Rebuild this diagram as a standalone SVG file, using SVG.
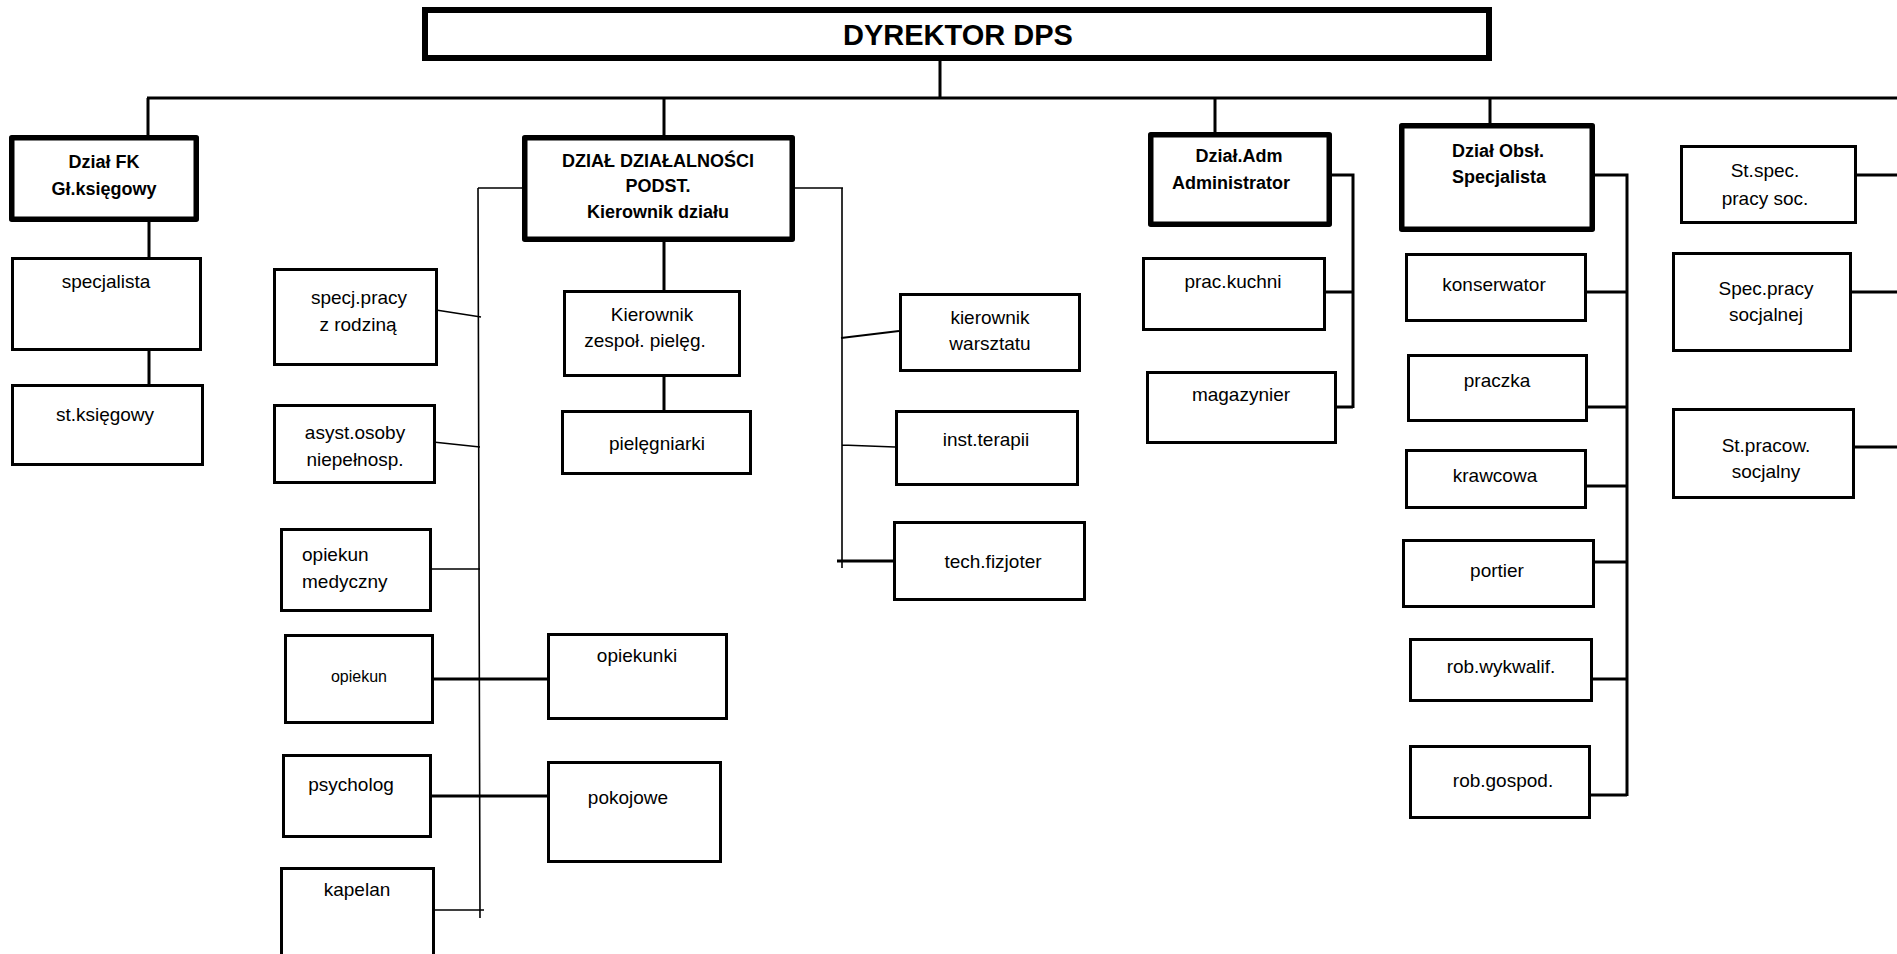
<svg xmlns="http://www.w3.org/2000/svg" width="1897" height="954" viewBox="0 0 1897 954">
<style>
  .box { fill: #fff; stroke: #000; stroke-width: 3; }
  .dept { fill: #fff; stroke: #000; stroke-width: 5.5; stroke-linejoin: round; }
  .top { fill: #fff; stroke: #000; stroke-width: 6; }
  .ln { stroke: #000; stroke-width: 3; fill: none; }
  .thin { stroke: #000; stroke-width: 1.6; fill: none; }
  text { font-family: "Liberation Sans", Arial, sans-serif; font-size: 19px; text-anchor: middle; fill: #000; }
  .b { font-weight: bold; font-size: 18px; }
  .head { font-weight: bold; font-size: 29px; }
  .sm { font-size: 16px; }
  .l { text-anchor: start; }
</style>
<rect width="1897" height="954" fill="#fff"/>

<g id="connectors">
  <!-- main bus -->
  <path class="ln" d="M940 61V98M147 98H1897M148 98V135M664 98V135M1215 98V132M1490 98V123"/>
  <!-- finance -->
  <path class="ln" d="M149 222V257M149 351V384"/>
  <!-- core department, left branch -->
  <path class="thin" d="M522 188H478M478 188L480 918"/>
  <path class="thin" d="M436 310L481 317M433 442L480 447M432 569H480M429 910H484"/>
  <path class="ln" d="M434 679H547M432 796H547"/>
  <!-- core department, nursing -->
  <path class="ln" d="M664 242V290M664 377V410"/>
  <!-- core department, right branch -->
  <path class="thin" d="M795 188H843M842 188V568M842 445L895 447"/>
  <path class="thin" style="stroke-width:2" d="M841 338L899 331"/>
  <path class="ln" d="M837 561H893"/>
  <!-- administration -->
  <path class="ln" d="M1332 175H1353V408M1326 292H1353M1337 407H1353"/>
  <!-- service department -->
  <path class="ln" d="M1595 175H1627V796M1587 292H1627M1588 407H1627M1587 486H1627M1595 562H1627M1593 679H1627M1591 795H1627"/>
  <!-- social work -->
  <path class="ln" d="M1857 175H1897M1852 292H1897M1855 447H1897"/>
</g>

<g id="dyrektor">
  <rect class="top" x="425" y="10" width="1064" height="48"/>
  <text class="head" x="958" y="45">DYREKTOR DPS</text>
</g>

<g id="dzial-fk">
  <rect class="dept" x="11.75" y="137.75" width="184.5" height="81.5"/>
  <text class="b" x="104" y="168">Dział FK</text>
  <text class="b" x="104" y="195">Gł.księgowy</text>
</g>
<g id="specjalista">
  <rect class="box" x="12.5" y="258.5" width="188" height="91"/>
  <text x="106" y="288">specjalista</text>
</g>
<g id="st-ksiegowy">
  <rect class="box" x="12.5" y="385.5" width="190" height="79"/>
  <text x="105" y="421">st.księgowy</text>
</g>

<g id="dzial-podst">
  <rect class="dept" x="524.75" y="137.75" width="267.5" height="101.5"/>
  <text class="b" x="658" y="167">DZIAŁ DZIAŁALNOŚCI</text>
  <text class="b" x="658" y="192">PODST.</text>
  <text class="b" x="658" y="218">Kierownik działu</text>
</g>
<g id="specj-pracy">
  <rect class="box" x="274.5" y="269.5" width="162" height="95"/>
  <text x="359" y="304">specj.pracy</text>
  <text x="358" y="331">z rodziną</text>
</g>
<g id="asyst-osoby">
  <rect class="box" x="274.5" y="405.5" width="160" height="77"/>
  <text x="355" y="439">asyst.osoby</text>
  <text x="355" y="466">niepełnosp.</text>
</g>
<g id="opiekun-medyczny">
  <rect class="box" x="281.5" y="529.5" width="149" height="81"/>
  <text class="l" x="302" y="561">opiekun</text>
  <text class="l" x="302" y="588">medyczny</text>
</g>
<g id="opiekun">
  <rect class="box" x="285.5" y="635.5" width="147" height="87"/>
  <text class="sm" x="359" y="682">opiekun</text>
</g>
<g id="opiekunki">
  <rect class="box" x="548.5" y="634.5" width="178" height="84"/>
  <text x="637" y="662">opiekunki</text>
</g>
<g id="psycholog">
  <rect class="box" x="283.5" y="755.5" width="147" height="81"/>
  <text x="351" y="791">psycholog</text>
</g>
<g id="pokojowe">
  <rect class="box" x="548.5" y="762.5" width="172" height="99"/>
  <text x="628" y="804">pokojowe</text>
</g>
<g id="kapelan">
  <rect class="box" x="281.5" y="868.5" width="152" height="110"/>
  <text x="357" y="896">kapelan</text>
</g>
<g id="kierownik-zespolu">
  <rect class="box" x="564.5" y="291.5" width="175" height="84"/>
  <text x="652" y="321">Kierownik</text>
  <text x="645" y="347">zespoł. pielęg.</text>
</g>
<g id="pielegniarki">
  <rect class="box" x="562.5" y="411.5" width="188" height="62"/>
  <text x="657" y="450">pielęgniarki</text>
</g>
<g id="kierownik-warsztatu">
  <rect class="box" x="900.5" y="294.5" width="179" height="76"/>
  <text x="990" y="324">kierownik</text>
  <text x="990" y="350">warsztatu</text>
</g>
<g id="inst-terapii">
  <rect class="box" x="896.5" y="411.5" width="181" height="73"/>
  <text x="986" y="446">inst.terapii</text>
</g>
<g id="tech-fizjoter">
  <rect class="box" x="894.5" y="522.5" width="190" height="77"/>
  <text x="993" y="568">tech.fizjoter</text>
</g>

<g id="dzial-adm">
  <rect class="dept" x="1150.75" y="134.75" width="178.5" height="89.5"/>
  <text class="b" x="1239" y="162">Dział.Adm</text>
  <text class="b" x="1231" y="189">Administrator</text>
</g>
<g id="prac-kuchni">
  <rect class="box" x="1143.5" y="258.5" width="181" height="71"/>
  <text x="1233" y="288">prac.kuchni</text>
</g>
<g id="magazynier">
  <rect class="box" x="1147.5" y="372.5" width="188" height="70"/>
  <text x="1241" y="401">magazynier</text>
</g>

<g id="dzial-obsl">
  <rect class="dept" x="1401.75" y="125.75" width="190.5" height="103.5"/>
  <text class="b" x="1498" y="157">Dział Obsł.</text>
  <text class="b" x="1499" y="183">Specjalista</text>
</g>
<g id="konserwator">
  <rect class="box" x="1406.5" y="254.5" width="179" height="66"/>
  <text x="1494" y="291">konserwator</text>
</g>
<g id="praczka">
  <rect class="box" x="1408.5" y="355.5" width="178" height="65"/>
  <text x="1497" y="387">praczka</text>
</g>
<g id="krawcowa">
  <rect class="box" x="1406.5" y="450.5" width="179" height="57"/>
  <text x="1495" y="482">krawcowa</text>
</g>
<g id="portier">
  <rect class="box" x="1403.5" y="540.5" width="190" height="66"/>
  <text x="1497" y="577">portier</text>
</g>
<g id="rob-wykwalif">
  <rect class="box" x="1410.5" y="639.5" width="181" height="61"/>
  <text x="1501" y="673">rob.wykwalif.</text>
</g>
<g id="rob-gospod">
  <rect class="box" x="1410.5" y="746.5" width="179" height="71"/>
  <text x="1503" y="787">rob.gospod.</text>
</g>

<g id="st-spec-pracy-soc">
  <rect class="box" x="1681.5" y="146.5" width="174" height="76"/>
  <text x="1765" y="177">St.spec.</text>
  <text x="1765" y="205">pracy soc.</text>
</g>
<g id="spec-pracy-socjalnej">
  <rect class="box" x="1673.5" y="253.5" width="177" height="97"/>
  <text x="1766" y="295">Spec.pracy</text>
  <text x="1766" y="321">socjalnej</text>
</g>
<g id="st-pracow-socjalny">
  <rect class="box" x="1673.5" y="409.5" width="180" height="88"/>
  <text x="1766" y="452">St.pracow.</text>
  <text x="1766" y="478">socjalny</text>
</g>
</svg>
